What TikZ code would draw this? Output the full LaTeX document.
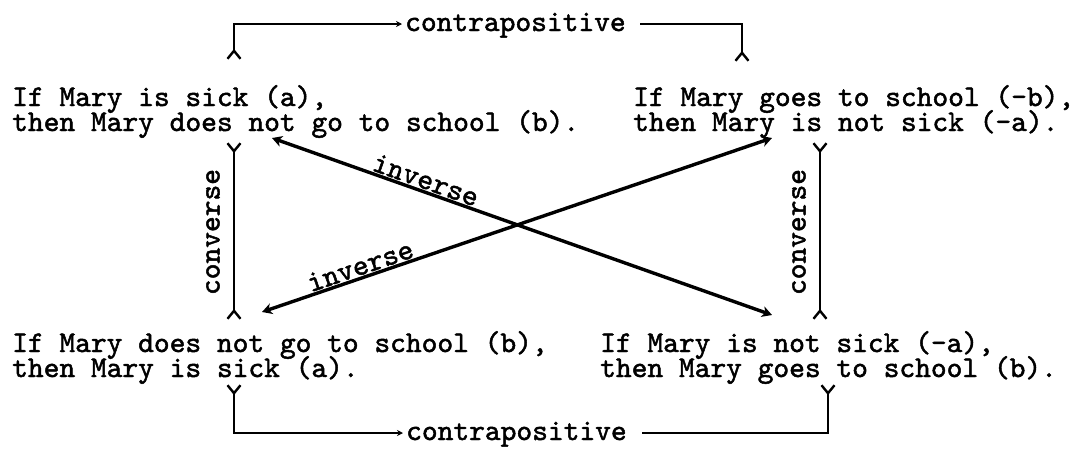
\documentclass[tikz,border=0pt]{standalone}
\usepackage{fontspec}
\usetikzlibrary{arrows.meta}
\newfontfamily\twfont{lmmono10-regular.otf}[FakeBold=1.6]
\newcommand\tw{\twfont\fontsize{30}{25}\selectfont}
\tikzset{
  Fork/.tip={Straight Barb[reversed,length=8pt,width=13pt,line width=2.4pt]},
  Head/.tip={Stealth[length=10pt,width=11pt,inset=3pt]},
  Dot/.tip={Stealth[length=6pt,width=6pt]},
  txt/.style={font=\tw, anchor=base west, inner sep=0pt},
  lbl/.style={font=\tw, inner sep=1pt},
  conv/.style={line width=2.4pt, {Fork}-{Fork}},
  inv/.style={line width=3.4pt, {Head}-{Head}},
  contra/.style={line width=2.2pt},
}
\begin{document}
\begin{tikzpicture}[x=1pt,y=-1pt]
\useasboundingbox[fill=white] (0,0) rectangle (1077,448);
% texts
\node[txt] (tl1) at (12,106) {If Mary is sick (a),};
\node[txt] (tl2) at (12,131) {then Mary does not go to school (b).};
\node[txt] (tr1) at (633,106) {If Mary goes to school (-b),};
\node[txt] (tr2) at (633,131) {then Mary is not sick (-a).};
\node[txt] (bl1) at (12,352) {If Mary does not go to school (b),};
\node[txt] (bl2) at (12,377) {then Mary is sick (a).};
\node[txt] (br1) at (600,352) {If Mary is not sick (-a),};
\node[txt] (br2) at (600,377) {then Mary goes to school (b).};
% coordinates
\coordinate (cvlt) at (234,142);
\coordinate (cvlb) at (234,320);
\coordinate (cvrt) at (820,142);
\coordinate (cvrb) at (820,320);
\coordinate (i1s) at (272,138);
\coordinate (i1e) at (772,315);
\coordinate (i2s) at (262,312);
\coordinate (i2e) at (772,138);
\coordinate (ctl) at (234,60);
\coordinate (ctr) at (742,62);
\coordinate (cbl) at (234,384);
\coordinate (cbr) at (828,384);
% contrapositive top
\node[txt] (ct) at (405,31) {contrapositive};
\coordinate (cta) at (402,24);
\coordinate (ctb) at (640,24);
\draw[contra, {Dot}-{Fork}] (cta) -| (ctl);
\draw[contra, -{Fork}] (ctb) -| (ctr);
% contrapositive bottom
\node[txt] (cb) at (406,440) {contrapositive};
\coordinate (cba) at (403,433);
\coordinate (cbb) at (642,433);
\draw[contra, {Dot}-{Fork}] (cba) -| (cbl);
\draw[contra, -{Fork}] (cbb) -| (cbr);
% converse
\draw[conv] (cvlt) -- (cvlb);
\draw[conv] (cvrt) -- (cvrb);
\node[lbl, rotate=90] (cvl) at (213,232) {converse};
\node[lbl, rotate=90] (cvr) at (799,232) {converse};
% inverse
\draw[inv] (i1s) -- (i1e) node[lbl, pos=0.3, sloped, above] (inv1) {inverse};
\draw[inv] (i2s) -- (i2e) node[lbl, pos=0.2, sloped, above] (inv2) {inverse};
\end{tikzpicture}
\end{document}
